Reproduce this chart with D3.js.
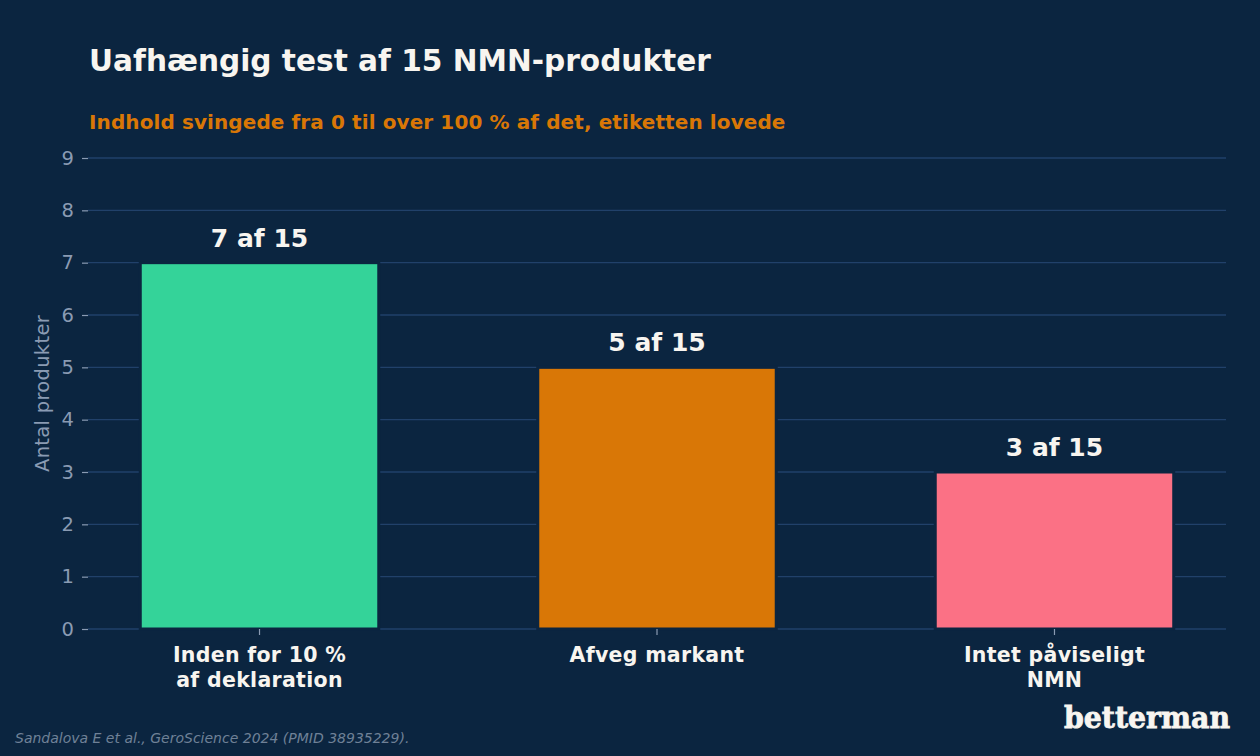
<!DOCTYPE html>
<html>
<head>
    <meta charset="utf-8" />
    <title>Uafhængig test af 15 NMN-produkter</title>
    <style>
        html, body { margin: 0; padding: 0; background: #0b2540; }
        svg text { font-family: "DejaVu Sans", sans-serif; }
    </style>
    <script src="https://d3js.org/d3.v7.min.js"></script>
</head>
<body>
<svg id="chart"></svg>
<script>
    // chart data
    const categories = [["Inden for 10 %", "af deklaration"], ["Afveg markant"], ["Intet påviseligt", "NMN"]];
    const counts = [7, 5, 3];
    const barLabels = ["7 af 15", "5 af 15", "3 af 15"];
    const barColors = ["#34d399", "#d97706", "#fb7185"];
    const yTicks = [0, 1, 2, 3, 4, 5, 6, 7, 8, 9];

    const width = 1260, height = 756;
    const bg = "#0b2540";
    const margin = { top: 158, right: 34, bottom: 127, left: 88 };

    const svg = d3.select("#chart")
        .attr("width", width)
        .attr("height", height);

    svg.append("rect").attr("width", width).attr("height", height).attr("fill", bg);

    const x = d3.scaleBand()
        .domain(d3.range(counts.length))
        .range([margin.left, width - margin.right])
        .paddingInner(0.4)
        .paddingOuter(0.1315);

    const y = d3.scaleLinear()
        .domain([0, 9])
        .range([height - margin.bottom, margin.top]);

    // gridlines
    svg.append("g")
        .selectAll("line")
        .data(yTicks)
        .join("line")
        .attr("x1", margin.left)
        .attr("x2", width - margin.right)
        .attr("y1", d => y(d))
        .attr("y2", d => y(d))
        .attr("stroke", "#21416a")
        .attr("stroke-width", 1.4);

    // y axis
    const yAxis = svg.append("g")
        .attr("transform", `translate(${margin.left},0)`)
        .call(d3.axisLeft(y).tickValues(yTicks).tickSize(6).tickPadding(8));
    yAxis.select(".domain").remove();
    yAxis.selectAll(".tick line").attr("stroke", "#8a9bb3").attr("stroke-width", 1.2);
    yAxis.selectAll(".tick text")
        .attr("fill", "#8a9bb3")
        .style("font-size", "19.5px");

    // bars
    svg.append("g")
        .selectAll("rect")
        .data(counts)
        .join("rect")
        .attr("x", (d, i) => x(i))
        .attr("y", d => y(d))
        .attr("width", x.bandwidth())
        .attr("height", d => y(0) - y(d))
        .attr("fill", (d, i) => barColors[i])
        .attr("stroke", bg)
        .attr("stroke-width", 3);

    // value labels
    svg.append("g")
        .selectAll("text")
        .data(counts)
        .join("text")
        .attr("x", (d, i) => x(i) + x.bandwidth() / 2)
        .attr("y", d => y(d) - 16)
        .attr("text-anchor", "middle")
        .attr("fill", "#f8f5f0")
        .style("font-size", "25px")
        .style("font-weight", "bold")
        .text((d, i) => barLabels[i]);

    // x axis
    const xAxis = svg.append("g")
        .attr("transform", `translate(0,${y(0)})`)
        .call(d3.axisBottom(x).tickSize(6).tickFormat(""));
    xAxis.select(".domain").remove();
    xAxis.selectAll(".tick line").attr("stroke", "#8a9bb3").attr("stroke-width", 1.2);

    const xl = svg.append("g")
        .selectAll("text")
        .data(categories)
        .join("text")
        .attr("x", (d, i) => x(i) + x.bandwidth() / 2)
        .attr("y", y(0) + 33)
        .attr("text-anchor", "middle")
        .attr("fill", "#f8f5f0")
        .style("font-size", "20.5px")
        .style("font-weight", "bold")
        .style("letter-spacing", "0.3px");
    xl.selectAll("tspan")
        .data(d => d)
        .join("tspan")
        .attr("x", function () { return this.parentNode.getAttribute("x"); })
        .attr("dy", (d, i) => i === 0 ? 0 : 25)
        .text(d => d);

    // y label
    svg.append("text")
        .attr("transform", `translate(49,${(y(0) + y(9)) / 2}) rotate(-90)`)
        .attr("text-anchor", "middle")
        .attr("fill", "#8a9bb3")
        .style("font-size", "19.5px")
        .style("letter-spacing", "0.3px")
        .text("Antal produkter");

    // titles
    svg.append("text")
        .attr("x", 89).attr("y", 71)
        .attr("fill", "#f8f5f0")
        .style("font-size", "29.6px")
        .style("font-weight", "bold")
        .text("Uafhængig test af 15 NMN-produkter");

    svg.append("text")
        .attr("x", 89).attr("y", 129)
        .attr("fill", "#d97706")
        .style("font-size", "20px")
        .style("font-weight", "bold")
        .style("letter-spacing", "0.1px")
        .text("Indhold svingede fra 0 til over 100 % af det, etiketten lovede");

    // source + logo
    svg.append("text")
        .attr("x", 15).attr("y", 743)
        .attr("fill", "#6f8197")
        .style("font-size", "14px")
        .style("font-style", "italic")
        .text("Sandalova E et al., GeroScience 2024 (PMID 38935229).");

    svg.append("text")
        .attr("x", 1230).attr("y", 728)
        .attr("text-anchor", "end")
        .attr("fill", "#f8f5f0")
        .attr("stroke", "#f8f5f0")
        .attr("stroke-width", 0.8)
        .style("font-family", "'DejaVu Serif', serif")
        .style("font-size", "30px")
        .style("font-weight", "bold")
        .attr("textLength", 166)
        .attr("lengthAdjust", "spacingAndGlyphs")
        .text("betterman");
</script>
</body>
</html>
